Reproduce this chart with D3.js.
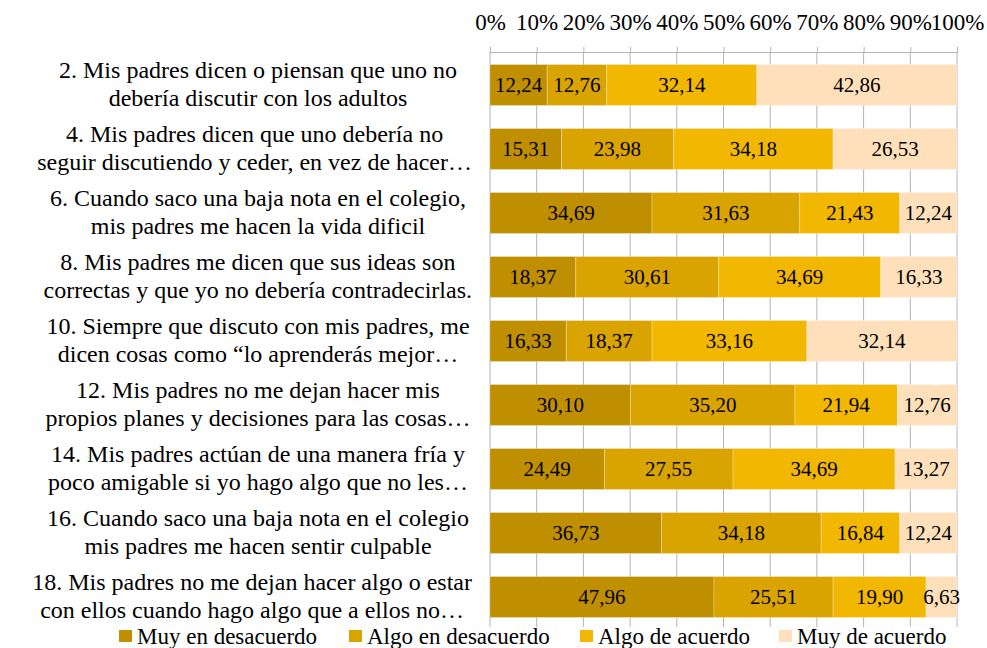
<!DOCTYPE html>
<html>
<head>
<meta charset="utf-8">
<script src="https://cdn.jsdelivr.net/npm/d3@7"></script>
</head>
<body style="margin:0">
<svg></svg>
<script>
// categories (each label already wrapped the way the chart shows it)
const categories = [
  ["2. Mis padres dicen o piensan que uno no", "debería discutir con los adultos"],
  ["4. Mis padres dicen que uno debería no", "seguir discutiendo y ceder, en vez de hacer…"],
  ["6. Cuando saco una baja nota en el colegio,", "mis padres me hacen la vida dificil"],
  ["8. Mis padres me dicen que sus ideas son", "correctas y que yo no debería contradecirlas."],
  ["10. Siempre que discuto con mis padres, me", "dicen cosas como “lo aprenderás mejor…"],
  ["12. Mis padres no me dejan hacer mis", "propios planes y decisiones para las cosas…"],
  ["14. Mis padres actúan de una manera fría y", "poco amigable si yo hago algo que no les…"],
  ["16. Cuando saco una baja nota en el colegio", "mis padres me hacen sentir culpable"],
  ["18. Mis padres no me dejan hacer algo o estar", "con ellos cuando hago algo que a ellos no…"]
];

const seriesNames = ["Muy en desacuerdo", "Algo en desacuerdo", "Algo de acuerdo", "Muy de acuerdo"];

const muyDesacuerdo  = [12.24, 15.31, 34.69, 18.37, 16.33, 30.10, 24.49, 36.73, 47.96];
const algoDesacuerdo = [12.76, 23.98, 31.63, 30.61, 18.37, 35.20, 27.55, 34.18, 25.51];
const algoAcuerdo    = [32.14, 34.18, 21.43, 34.69, 33.16, 21.94, 34.69, 16.84, 19.90];
const muyAcuerdo     = [42.86, 26.53, 12.24, 16.33, 32.14, 12.76, 13.27, 12.24, 6.63];

const tickValues = [0, 10, 20, 30, 40, 50, 60, 70, 80, 90, 100];

const colors = ["#bf8f00", "#daa400", "#f2b700", "#ffe0bb"];

const width = 987;
const height = 648;
const margin = { top: 53, right: 30, bottom: 19, left: 490 };
const serif = "Tinos, 'Liberation Serif', 'Nimbus Roman', FreeSerif, Georgia";

const svg = d3.select("svg")
  .attr("width", width)
  .attr("height", height);

const x = d3.scaleLinear().domain([0, 100]).range([margin.left, width - margin.right]);
const y = d3.scaleBand()
  .domain(d3.range(categories.length))
  .range([margin.top, height - margin.bottom])
  .paddingInner(0.36)
  .paddingOuter(0.18);

// rows for the stack
const rows = categories.map((c, i) => ({
  i: i,
  "Muy en desacuerdo": muyDesacuerdo[i],
  "Algo en desacuerdo": algoDesacuerdo[i],
  "Algo de acuerdo": algoAcuerdo[i],
  "Muy de acuerdo": muyAcuerdo[i]
}));
const stacked = d3.stack().keys(seriesNames)(rows);

// gridlines
svg.append("g")
  .selectAll("line")
  .data(tickValues)
  .enter()
  .append("line")
  .attr("x1", (d) => x(d))
  .attr("x2", (d) => x(d))
  .attr("y1", margin.top - 1)
  .attr("y2", height - margin.bottom - 2)
  .attr("stroke", "#b4b4b4")
  .attr("stroke-width", 1);

// top axis
const axis = svg.append("g")
  .attr("transform", `translate(0,${margin.top - 1})`)
  .call(d3.axisTop(x).tickValues(tickValues).tickFormat((d) => d + "%").tickSize(5).tickPadding(4));
axis.attr("font-family", serif).attr("font-size", 23);
axis.select(".domain").attr("stroke", "#b4b4b4");
axis.selectAll(".tick line").attr("stroke", "#b4b4b4");
axis.selectAll(".tick text")
  .attr("fill", "#000")
  .attr("y", -22)
  .attr("dy", 0);

// bars
const layer = svg.append("g")
  .selectAll("g")
  .data(stacked)
  .enter()
  .append("g")
  .attr("fill", (d, i) => colors[i]);

layer.selectAll("rect")
  .data((d) => d)
  .enter()
  .append("rect")
  .attr("x", (d) => x(d[0]))
  .attr("width", (d) => x(d[1]) - x(d[0]))
  .attr("y", (d) => y(d.data.i))
  .attr("height", y.bandwidth())
  .attr("stroke", "#fff")
  .attr("stroke-opacity", 0.35)
  .attr("stroke-width", 0.8);

// data labels
layer.selectAll("text")
  .data((d) => d.map((v) => ({ v: v, key: d.key })))
  .enter()
  .append("text")
  .attr("x", (d) => (x(d.v[0]) + x(d.v[1])) / 2)
  .attr("y", (d) => y(d.v.data.i) + y.bandwidth() / 2 + 7)
  .attr("text-anchor", "middle")
  .attr("font-family", serif)
  .attr("font-size", 21)
  .attr("fill", "#000")
  .text((d) => d.v.data[d.key].toFixed(2).replace(".", ","));

// category labels: widest line ends near the axis, lines centred on each other
const cat = svg.append("g")
  .selectAll("text")
  .data(categories)
  .enter()
  .append("text")
  .attr("text-anchor", "middle")
  .attr("font-family", serif)
  .attr("font-size", 24)
  .attr("fill", "#000");

cat.selectAll("tspan")
  .data((d, i) => d.map((line, j) => ({ line: line, j: j, i: i })))
  .enter()
  .append("tspan")
  .attr("y", (d) => y(d.i) + y.bandwidth() / 2 - 7 + d.j * 28)
  .text((d) => d.line);

cat.each(function () {
  const spans = d3.select(this).selectAll("tspan");
  let w = 0;
  spans.each(function () { w = Math.max(w, this.getComputedTextLength()); });
  spans.attr("x", Math.min(258, 472 - w / 2));
});

// legend
const legendX = [119, 349, 580, 779];
const legend = svg.append("g")
  .selectAll("g")
  .data(seriesNames)
  .enter()
  .append("g")
  .attr("transform", (d, i) => `translate(${legendX[i]},630)`);

legend.append("rect")
  .attr("width", 13)
  .attr("height", 12)
  .attr("fill", (d, i) => colors[i]);

legend.append("text")
  .attr("x", 18)
  .attr("y", 14)
  .attr("font-family", serif)
  .attr("font-size", 23)
  .attr("fill", "#000")
  .text((d) => d);
</script>
</body>
</html>
